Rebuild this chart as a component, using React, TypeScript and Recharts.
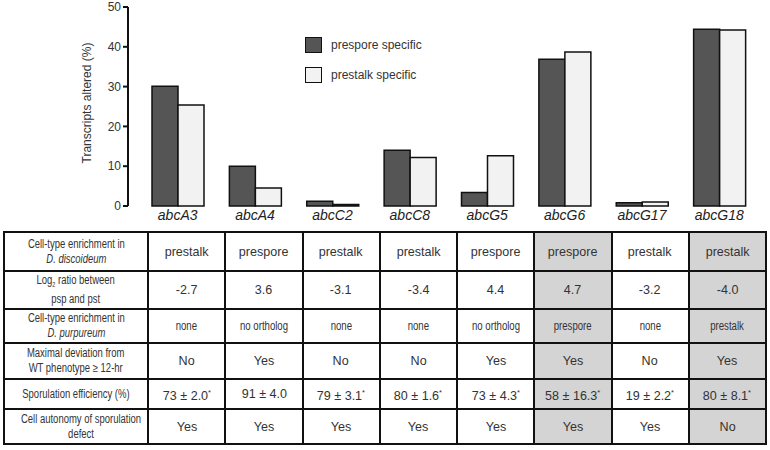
import { Bar, BarChart, XAxis, YAxis } from "recharts";

const genes = ["abcA3", "abcA4", "abcC2", "abcC8", "abcG5", "abcG6", "abcG17", "abcG18"];
const presporeSpecific = [30.1, 10, 1.2, 14, 3.4, 36.9, 0.8, 44.4];
const prestalkSpecific = [25.4, 4.5, 0.4, 12.2, 12.6, 38.7, 1.0, 44.2];
const yTicks = [0, 10, 20, 30, 40, 50];

const discoideum = ["prestalk", "prespore", "prestalk", "prestalk", "prespore", "prespore", "prestalk", "prestalk"];
const log2Ratio = ["-2.7", "3.6", "-3.1", "-3.4", "4.4", "4.7", "-3.2", "-4.0"];
const purpureum = ["none", "no ortholog", "none", "none", "no ortholog", "prespore", "none", "prestalk"];
const deviation = ["No", "Yes", "No", "No", "Yes", "Yes", "No", "Yes"];
const sporulation = ["73 ± 2.0", "91 ± 4.0", "79 ± 3.1", "80 ± 1.6", "73 ± 4.3", "58 ± 16.3", "19 ± 2.2", "80 ± 8.1"];
const sporulationStar = [true, false, true, true, true, true, true, true];
const autonomy = ["Yes", "Yes", "Yes", "Yes", "Yes", "Yes", "Yes", "No"];
const highlighted = ["abcG6", "abcG18"];

const data = genes.map((gene, i) => ({
  gene,
  prespore: presporeSpecific[i],
  prestalk: prestalkSpecific[i],
}));

const font = "'Liberation Sans', Arial, sans-serif";
const DARK = "#555555";
const LIGHT = "#f2f2f2";
const BORDER = "2.5px solid #111";
const TEXT = "#333";

function GeneTick({ x, y, payload }: any) {
  return (
    <text x={x} y={y} dy={6} textAnchor="middle" fontSize={14} fontStyle="italic" fill="#222" fontFamily={font}>
      {payload.value}
    </text>
  );
}

// the source figure uses a narrow helvetica, fake it with a horizontal squeeze
function Narrow({ k, children }: { k: number; children: React.ReactNode }) {
  return (
    <span
      style={{
        display: "inline-block",
        textAlign: "center",
        transform: `scaleX(${k})`,
        transformOrigin: "center",
      }}
    >
      {children}
    </span>
  );
}

function LegendBox() {
  const items = [
    { name: "prespore specific", color: DARK },
    { name: "prestalk specific", color: LIGHT },
  ];
  return (
    <div style={{ position: "absolute", left: 305, top: 37, fontFamily: font, fontSize: 12, color: TEXT }}>
      {items.map((item) => (
        <div key={item.name} style={{ display: "flex", alignItems: "center", height: 16, marginBottom: 14 }}>
          <span
            style={{
              display: "inline-block",
              boxSizing: "border-box",
              width: 17,
              height: 16,
              background: item.color,
              border: "1.5px solid #111",
              marginRight: 9,
            }}
          />
          {item.name}
        </div>
      ))}
    </div>
  );
}

type Row = { label: React.ReactNode; height: number; values: React.ReactNode[]; small?: boolean };

const rows: Row[] = [
  {
    label: (
      <>
        Cell-type enrichment in
        <br />
        <i>D. discoideum</i>
      </>
    ),
    height: 39,
    values: discoideum,
  },
  {
    label: (
      <>
        Log<sub style={{ fontSize: 7 }}>2</sub> ratio between
        <br />
        psp and pst
      </>
    ),
    height: 38,
    values: log2Ratio,
  },
  {
    label: (
      <>
        Cell-type enrichment in
        <br />
        <i>D. purpureum</i>
      </>
    ),
    height: 34,
    values: purpureum,
    small: true,
  },
  {
    label: (
      <>
        Maximal deviation from
        <br />
        WT phenotype ≥ 12-hr
      </>
    ),
    height: 36,
    values: deviation,
  },
  {
    label: "Sporulation efficiency (%)",
    height: 30,
    values: sporulation.map((v, i) => (
      <>
        {v}
        {sporulationStar[i] ? <sup style={{ fontSize: 8, verticalAlign: 5 }}>*</sup> : null}
      </>
    )),
  },
  {
    label: (
      <>
        Cell autonomy of sporulation
        <br />
        defect
      </>
    ),
    height: 35,
    values: autonomy,
  },
];

function DataTable() {
  return (
    <table
      style={{
        position: "absolute",
        left: 3,
        top: 231,
        width: 762,
        borderCollapse: "collapse",
        tableLayout: "fixed",
        fontFamily: font,
        color: TEXT,
      }}
    >
      <colgroup>
        <col style={{ width: 144 }} />
        {genes.map((g) => (
          <col key={g} style={{ width: 77.25 }} />
        ))}
      </colgroup>
      <tbody>
        {rows.map((row, r) => (
          <tr key={r} style={{ height: row.height }}>
            <td
              style={{
                border: BORDER,
                textAlign: "center",
                fontSize: 12,
                lineHeight: "15px",
                whiteSpace: "nowrap",
                padding: 0,
              }}
            >
              <Narrow k={0.79}>{row.label}</Narrow>
            </td>
            {row.values.map((v, i) => (
              <td
                key={i}
                style={{
                  border: BORDER,
                  textAlign: "center",
                  fontSize: row.small ? 12 : 13.5,
                  whiteSpace: "nowrap",
                  padding: 0,
                  lineHeight: "14px",
                  background: highlighted.includes(genes[i]) ? "#d4d4d4" : "#fff",
                }}
              >
                <Narrow k={row.small ? 0.8 : 0.93}>{v}</Narrow>
              </td>
            ))}
          </tr>
        ))}
      </tbody>
    </table>
  );
}

export default function App() {
  return (
    <div style={{ position: "absolute", left: 0, top: 0, width: 770, height: 450, background: "#fff" }}>
      <BarChart
        width={770}
        height={230}
        data={data}
        margin={{ top: 7, right: 12, left: 68, bottom: 4 }}
        barGap={0}
        barSize={26}
      >
        <XAxis
          dataKey="gene"
          height={20}
          axisLine={false}
          tickLine={false}
          padding={{ left: 11, right: 0 }}
          interval={0}
          tick={<GeneTick />}
        />
        <YAxis
          width={60}
          domain={[0, 50]}
          ticks={yTicks}
          interval={0}
          axisLine={{ stroke: "#111", strokeWidth: 2 }}
          tickLine={{ stroke: "#111", strokeWidth: 2 }}
          tickSize={5}
          tick={{ fill: "#333", fontSize: 12, fontFamily: font }}
        />
        <Bar dataKey="prespore" name="prespore specific" fill={DARK} stroke="#111" strokeWidth={1.5} isAnimationActive={false} />
        <Bar dataKey="prestalk" name="prestalk specific" fill={LIGHT} stroke="#111" strokeWidth={1.5} isAnimationActive={false} />
        <text
          x={88}
          y={103}
          transform="rotate(-90, 88, 103)"
          textAnchor="middle"
          dominantBaseline="middle"
          fontSize={12}
          fill="#333"
          fontFamily={font}
        >
          Transcripts altered (%)
        </text>
      </BarChart>
      <LegendBox />
      <DataTable />
    </div>
  );
}
